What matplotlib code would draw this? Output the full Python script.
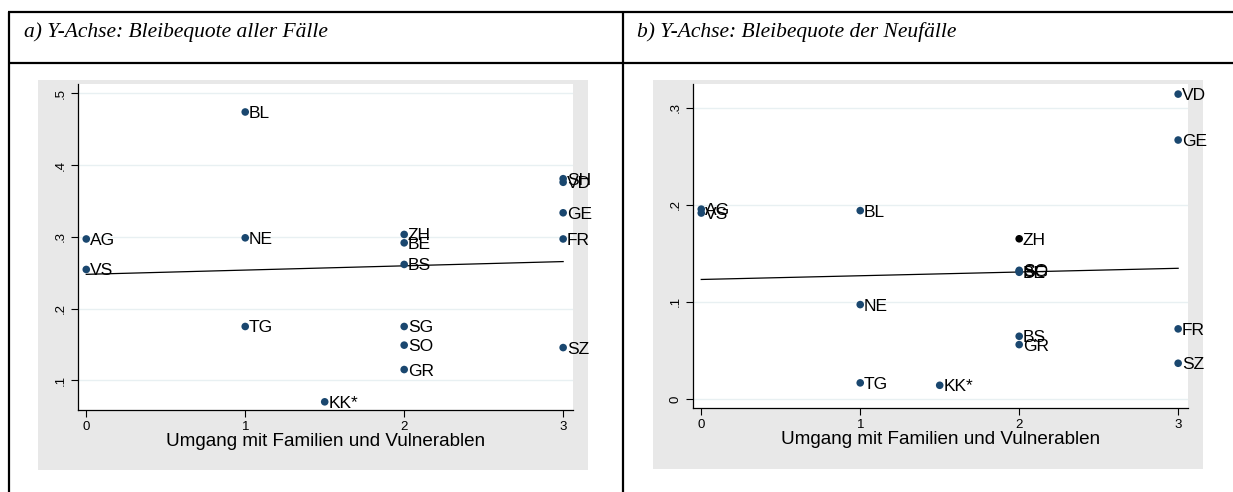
import matplotlib
matplotlib.use("Agg")
import matplotlib.pyplot as plt
import numpy as np
from matplotlib.patches import Rectangle
from matplotlib.lines import Line2D

# ---------------- data ----------------
panel_titles = ["a) Y-Achse: Bleibequote aller Fälle", "b) Y-Achse: Bleibequote der Neufälle"]
xlabel_text = "Umgang mit Familien und Vulnerablen"

a_labels = ["AG", "VS", "BL", "NE", "TG", "KK*", "ZH", "BE", "BS", "SG", "SO", "GR",
            "SH", "VD", "GE", "FR", "SZ"]
a_x = [0, 0, 1, 1, 1, 1.5, 2, 2, 2, 2, 2, 2, 3, 3, 3, 3, 3]
a_y = [0.297, 0.2545, 0.474, 0.2986, 0.175, 0.070, 0.3033, 0.2916, 0.2615, 0.175,
       0.149, 0.115, 0.381, 0.376, 0.3335, 0.297, 0.1456]
a_yticks = [0.1, 0.2, 0.3, 0.4, 0.5]
a_yticklabels = [".1", ".2", ".3", ".4", ".5"]

b_labels = ["AG", "VS", "BL", "NE", "TG", "KK*", "ZH", "SO", "SG", "BE", "BS", "GR",
            "VD", "GE", "FR", "SZ"]
b_x = [0, 0, 1, 1, 1, 1.5, 2, 2, 2, 2, 2, 2, 3, 3, 3, 3]
b_y = [0.1955, 0.1915, 0.194, 0.0972, 0.0166, 0.0141, 0.165, 0.1325, 0.1315, 0.1305,
       0.0646, 0.056, 0.314, 0.2667, 0.0722, 0.0368]
b_yticks = [0.0, 0.1, 0.2, 0.3]
b_yticklabels = ["0", ".1", ".2", ".3"]

xticks = [0, 1, 2, 3]
xticklabels = ["0", "1", "2", "3"]

# ---------------- style ----------------
W, H = 1233, 492
DOT = "#1a476f"
GRAYBG = "#e8e8e8"
GRID = "#e8f0f2"
plt.rcParams["font.family"] = ["Liberation Sans", "DejaVu Sans"]

fig = plt.figure(figsize=(W / 100, H / 100), dpi=100)
fig.patch.set_facecolor("white")


def fx(px):
    return px / W


def fy(py):
    return 1 - py / H


# table lines
lw_tab = 1.6
for (x0, y0, x1, y1) in [(8, 12, W, 12), (8, 62.5, W, 62.5), (8.5, 12, 8.5, H), (623, 12, 623, H)]:
    fig.add_artist(Line2D([fx(x0), fx(x1)], [fy(y0), fy(y1)], color="black", lw=lw_tab,
                          transform=fig.transFigure, solid_capstyle="butt"))

# header titles
for tx, t in [(24, panel_titles[0]), (637, panel_titles[1])]:
    fig.text(fx(tx), fy(37.5), t, family=["Liberation Serif", "DejaVu Serif"], style="italic",
             fontsize=15.5, ha="left", va="baseline")

panels = [
    dict(gray=(37.5, 79.5, 588, 470), ax=(78, 84, 573, 410), xlim=(-0.052, 3.062),
         ylim=(0.0586, 0.513), x=a_x, y=a_y, lab=a_labels, yt=a_yticks, ytl=a_yticklabels,
         black=[]),
    dict(gray=(652.5, 79.5, 1203, 469), ax=(693, 84, 1188, 408.3), xlim=(-0.052, 3.062),
         ylim=(-0.0096, 0.3244), x=b_x, y=b_y, lab=b_labels, yt=b_yticks, ytl=b_yticklabels,
         black=["ZH"]),
]

for p in panels:
    gx0, gy0, gx1, gy1 = p["gray"]
    fig.add_artist(Rectangle((fx(gx0), fy(gy1)), fx(gx1 - gx0), (gy1 - gy0) / H,
                             transform=fig.transFigure, facecolor=GRAYBG, edgecolor="none",
                             zorder=0))
    ax0, ay0, ax1, ay1 = p["ax"]
    ax = fig.add_axes([fx(ax0), fy(ay1), fx(ax1 - ax0), (ay1 - ay0) / H])
    ax.set_facecolor("white")
    ax.set_xlim(*p["xlim"])
    ax.set_ylim(*p["ylim"])
    for s in ["top", "right"]:
        ax.spines[s].set_visible(False)
    for s in ["left", "bottom"]:
        ax.spines[s].set_linewidth(0.9)
    ax.set_xticks(xticks)
    ax.set_xticklabels(xticklabels, fontsize=9.5)
    ax.set_yticks(p["yt"])
    ax.set_yticklabels(p["ytl"], fontsize=9.5, rotation=90, va="center")
    ax.tick_params(axis="both", length=5, width=0.8, direction="out", pad=3, colors="black")
    ax.grid(axis="y", color=GRID, lw=1.0)
    ax.set_axisbelow(True)
    ax.set_xlabel(xlabel_text, fontsize=13.6, labelpad=0)

    xs = np.array(p["x"], dtype=float)
    ys = np.array(p["y"], dtype=float)
    colors = ["black" if l in p["black"] else DOT for l in p["lab"]]
    ax.scatter(xs, ys, s=30, c=colors, zorder=3, linewidths=0)
    for xv, yv, l in zip(xs, ys, p["lab"]):
        ax.annotate(l, (xv, yv), xytext=(2.7, 0), textcoords="offset points", fontsize=12.5,
                    ha="left", va="center_baseline", zorder=4)
    slope, inter = np.polyfit(xs, ys, 1)
    xx = np.array([0.0, 3.0])
    ax.plot(xx, inter + slope * xx, color="black", lw=0.9, zorder=2)

fig.savefig("out.png", dpi=100, facecolor="white")
